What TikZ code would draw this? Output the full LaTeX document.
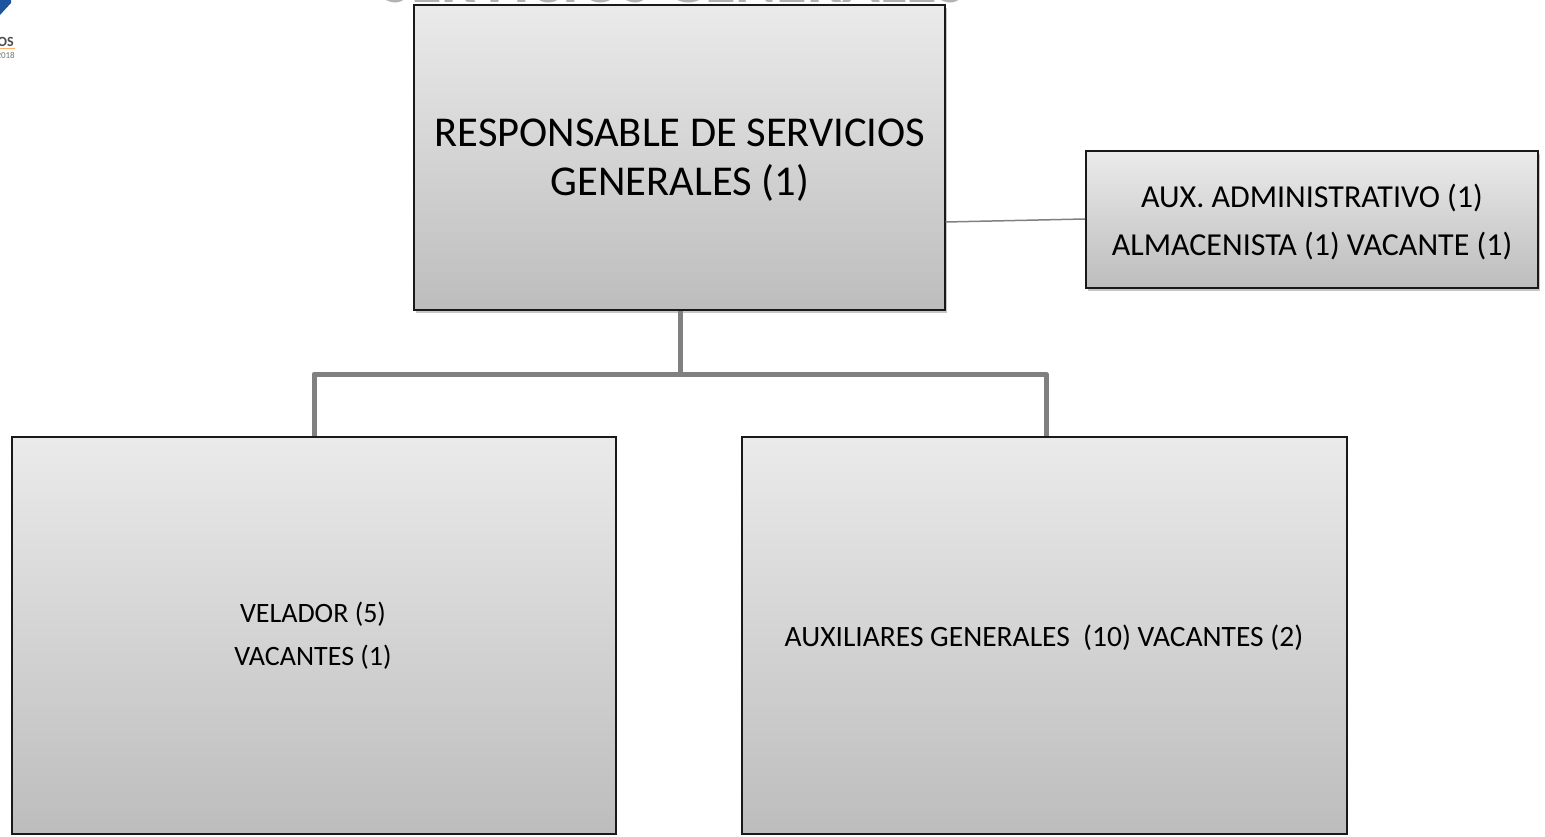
\documentclass[tikz,border=0pt]{standalone}
\usepackage{fontspec}
\setmainfont{Carlito}
\usetikzlibrary{shadows,calc}
\tikzset{
  x=1pt,y=-1pt,
  orgbox/.style={draw=black!90,line width=2pt,top color=black!8,bottom color=black!26,
    anchor=north west,inner sep=0pt,align=center},
  shadowed/.style={drop shadow={shadow xshift=2pt,shadow yshift=-3pt,opacity=.22,fill=black}},
  thick link/.style={draw=black!50,line width=5pt},
  thin link/.style={draw=black!50,line width=1.5pt},
  bigtext/.style={font=\fontsize{42.5}{49}\selectfont},
  midtext/.style={font=\fontsize{32}{47.5}\selectfont},
  smalltext/.style={font=\fontsize{28}{43}\selectfont},
  widetext/.style={font=\fontsize{29.5}{36}\selectfont},
}
\definecolor{logoblue}{RGB}{28,84,160}
\begin{document}
\begin{tikzpicture}
\useasboundingbox (0,0) rectangle (1545,837);
\begin{scope}
\clip (0,0) rectangle (1545,837);
\node[anchor=base,text=black!30,font=\bfseries\fontsize{62.5}{62.5}\selectfont] (title) at (674,3) {SERVICIOS GENERALES};
\fill[logoblue] (0,0) -- (11,0) -- (11,3) -- (0,15) -- cycle;
\node[anchor=base east,inner sep=0pt,text=black!70,font=\bfseries\fontsize{14}{14}\selectfont] (logoa) at (14,47) {OS};
\fill[orange!60] (0,48.5) rectangle (15,49.5);
\node[anchor=base east,inner sep=0pt,text=black!55,font=\fontsize{9}{9}\selectfont] (logob) at (15,59) {2018};
\end{scope}
\node[orgbox,shadowed,minimum width=531pt,minimum height=305pt] (resp) at (412.5,4) {};
\node[bigtext,align=center] (resptext) at (680,160) {RESPONSABLE DE SERVICIOS\\GENERALES (1)};
\node[orgbox,shadowed,minimum width=452pt,minimum height=137pt] (aux) at (1085,150) {};
\node[midtext,align=center] (auxtext) at (1312,222) {AUX. ADMINISTRATIVO (1)\\ALMACENISTA (1) VACANTE (1)};
\node[orgbox,minimum width=604pt,minimum height=397pt] (vel) at (10.5,435.5) {};
\node[smalltext,align=center] (veltext) at (313,636) {VELADOR (5)\\VACANTES (1)};
\node[orgbox,minimum width=605pt,minimum height=397pt] (gen) at (741,435.5) {};
\node[widetext] (gentext) at (1044,638) {AUXILIARES GENERALES\ \ (10) VACANTES (2)};
\coordinate (bus) at (680,374);
\draw[thin link] (resp.east |- 0,222) -- (aux.west |- 0,219);
\draw[thick link,line join=round] (resp.south -| bus) -- (bus);
\draw[thick link,line join=round] (vel.north -| 314,0) -- (314,374) -- (1046,374) -- (gen.north -| 1046,0);
\end{tikzpicture}
\end{document}
